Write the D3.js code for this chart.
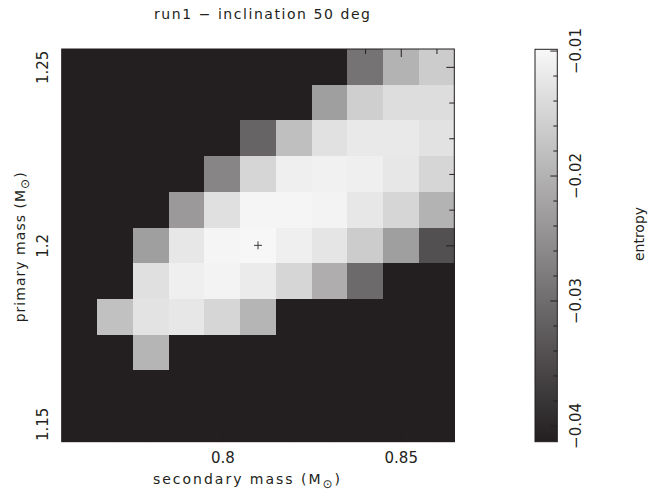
<!DOCTYPE html>
<html>
<head>
<meta charset="utf-8">
<script src="https://cdn.jsdelivr.net/npm/d3@7/dist/d3.min.js"></script>
<style>
  body { margin: 0; background: #fff; }
  text { font-family: "DejaVu Sans", sans-serif; fill: #231f20; }
</style>
</head>
<body>
<svg id="chart" width="661" height="501"></svg>
<script>
// Grid of trial masses (solar masses)
const secondaryMass = [0.76, 0.77, 0.78, 0.79, 0.80, 0.81, 0.82, 0.83, 0.84, 0.85, 0.86];
const primaryMass = [1.25, 1.24, 1.23, 1.22, 1.21, 1.20, 1.19, 1.18, 1.17, 1.16, 1.15];

// Entropy for each grid point, one row per primary mass (top row = 1.25).
// null marks points below the colour range.
const N = null;
const entropy = [
  [N, N, N, N, N, N, N, N, -0.0291, -0.0199, -0.0163],
  [N, N, N, N, N, N, N, -0.0228, -0.0159, -0.0138, -0.0138],
  [N, N, N, N, N, -0.0313, -0.0182, -0.0132, -0.0121, -0.0121, -0.0131],
  [N, N, N, N, -0.0265, -0.0148, -0.0112, -0.0109, -0.0112, -0.0124, -0.0148],
  [N, N, N, -0.0236, -0.0134, -0.0103, -0.0103, -0.0106, -0.0124, -0.0148, -0.0199],
  [N, N, -0.0228, -0.0124, -0.0103, -0.0100, -0.0112, -0.0126, -0.0163, -0.0228, -0.0342],
  [N, N, -0.0134, -0.0112, -0.0106, -0.0118, -0.0148, -0.0207, -0.0304, N, N],
  [N, -0.0178, -0.0130, -0.0124, -0.0148, -0.0196, N, N, N, N, N],
  [N, N, -0.0196, N, N, N, N, N, N, N, N],
  [N, N, N, N, N, N, N, N, N, N, N],
  [N, N, N, N, N, N, N, N, N, N, N]
];

// Best-fitting model
const bestFit = { secondary: 0.81, primary: 1.20 };

// Axis ticks
const xMajorTicks = [0.80, 0.85];
const xMinorTicks = [0.76, 0.77, 0.78, 0.79, 0.81, 0.82, 0.83, 0.84, 0.86];
const yMajorTicks = [1.15, 1.20, 1.25];
const yMinorTicks = [1.16, 1.17, 1.18, 1.19, 1.21, 1.22, 1.23, 1.24];
const cbarMajorTicks = [-0.04, -0.03, -0.02, -0.01];
const cbarMinorTicks = [-0.038, -0.036, -0.034, -0.032, -0.028, -0.026, -0.024, -0.022,
                        -0.018, -0.016, -0.014, -0.012];
const entropyRange = [-0.0413, -0.0099];

const step = 0.01;
const svg = d3.select("#chart");
const ink = "#231f20";

const plot = { left: 61.7, right: 454.3, top: 49, bottom: 441.7 };
const x = d3.scaleLinear().domain([0.755, 0.865]).range([plot.left, plot.right]);
const y = d3.scaleLinear().domain([1.145, 1.255]).range([plot.bottom, plot.top]);
const color = d3.scaleLinear().domain(entropyRange).range(["#231f20", "#f8f8f8"]).clamp(true);
const fillOf = v => v == null ? color(entropyRange[0]) : color(v);

// Underlay so cell edges never show through
svg.append("rect")
  .attr("x", plot.left).attr("y", plot.top)
  .attr("width", plot.right - plot.left).attr("height", plot.bottom - plot.top)
  .attr("fill", color(entropyRange[0]));

// Cells
const cells = [];
primaryMass.forEach((p, i) => secondaryMass.forEach((s, j) =>
  cells.push({ s, p, v: entropy[i][j] })));

svg.append("g").attr("shape-rendering", "crispEdges")
  .selectAll("rect").data(cells).join("rect")
  .attr("x", d => x(d.s - step / 2))
  .attr("y", d => y(d.p + step / 2))
  .attr("width", d => x(d.s + step / 2) - x(d.s - step / 2) + 0.5)
  .attr("height", d => y(d.p - step / 2) - y(d.p + step / 2) + 0.5)
  .attr("fill", d => fillOf(d.v));

// Best-fit marker
const bx = x(bestFit.secondary), by = y(bestFit.primary);
svg.append("path")
  .attr("d", `M${bx - 4},${by}H${bx + 4}M${bx},${by - 4}V${by + 4}`)
  .attr("stroke", "#3a3a3a").attr("stroke-width", 1);

// Inward ticks on all four sides
function tickAxis(axisFn, scale, values, size, tx, ty) {
  const g = svg.append("g").attr("transform", `translate(${tx},${ty})`)
    .call(axisFn(scale).tickValues(values).tickSize(-size).tickFormat(""));
  g.select(".domain").remove();
  g.selectAll("line").attr("stroke", ink);
  return g;
}
tickAxis(d3.axisBottom, x, xMajorTicks, 8, 0, plot.bottom);
tickAxis(d3.axisBottom, x, xMinorTicks, 5, 0, plot.bottom);
tickAxis(d3.axisTop, x, xMajorTicks, 8, 0, plot.top);
tickAxis(d3.axisTop, x, xMinorTicks, 5, 0, plot.top);
tickAxis(d3.axisLeft, y, yMajorTicks, 8, plot.left, 0);
tickAxis(d3.axisLeft, y, yMinorTicks, 5, plot.left, 0);
tickAxis(d3.axisRight, y, yMajorTicks, 8, plot.right, 0);
tickAxis(d3.axisRight, y, yMinorTicks, 5, plot.right, 0);

// Frame
svg.append("rect")
  .attr("x", plot.left).attr("y", plot.top)
  .attr("width", plot.right - plot.left).attr("height", plot.bottom - plot.top)
  .attr("fill", "none").attr("stroke", ink).attr("stroke-width", 1);

// Tick labels
const xLab = svg.append("g").attr("transform", `translate(0,${plot.bottom})`)
  .call(d3.axisBottom(x).tickValues(xMajorTicks).tickSize(0).tickFormat(d3.format("~g")));
xLab.select(".domain").remove();
xLab.selectAll("text").attr("y", 21).attr("dy", 0).attr("font-size", 15);

const yLab = svg.append("g").attr("transform", `translate(${plot.left},0)`)
  .call(d3.axisLeft(y).tickValues(yMajorTicks).tickSize(0).tickFormat(d3.format("~g")));
yLab.select(".domain").remove();
yLab.selectAll("text")
  .attr("x", 0).attr("y", 0).attr("dy", 0)
  .attr("text-anchor", "middle").attr("font-size", 15)
  .attr("transform", "translate(-14,0) rotate(-90)");

// Titles
svg.append("text").attr("x", 154).attr("y", 19)
  .attr("font-size", 14).attr("textLength", 216).attr("lengthAdjust", "spacing")
  .text("run1 \u2212 inclination 50 deg");

function massLabel(sel) {
  sel.append("tspan").text(sel.attr("data-label") + " (M");
  sel.append("tspan").attr("font-size", 12).attr("dy", 4).text("\u2299");
  sel.append("tspan").attr("dy", -4).text(")");
}
svg.append("text").attr("x", 153).attr("y", 484)
  .attr("font-size", 14).attr("textLength", 187).attr("lengthAdjust", "spacing")
  .attr("data-label", "secondary mass").call(massLabel);

svg.append("text")
  .attr("transform", `translate(25,${(plot.top + plot.bottom) / 2 + 2}) rotate(-90)`)
  .attr("text-anchor", "middle")
  .attr("font-size", 14).attr("textLength", 150).attr("lengthAdjust", "spacing")
  .attr("data-label", "primary mass").call(massLabel);

// Colour bar
const cbar = { left: 535, right: 557.3, top: 49.3, bottom: 441.7 };
const cy = d3.scaleLinear().domain(entropyRange).range([cbar.bottom, cbar.top]);

const grad = svg.append("defs").append("linearGradient")
  .attr("id", "entropyGradient").attr("x1", 0).attr("y1", 1).attr("x2", 0).attr("y2", 0);
grad.selectAll("stop").data(d3.range(0, 1.0001, 0.1)).join("stop")
  .attr("offset", t => t)
  .attr("stop-color", t => color(entropyRange[0] + t * (entropyRange[1] - entropyRange[0])));

svg.append("rect")
  .attr("x", cbar.left).attr("y", cbar.top)
  .attr("width", cbar.right - cbar.left).attr("height", cbar.bottom - cbar.top)
  .attr("fill", "url(#entropyGradient)").attr("stroke", ink).attr("stroke-width", 1);

const cMaj = svg.append("g").attr("transform", `translate(${cbar.right},0)`)
  .call(d3.axisRight(cy).tickValues(cbarMajorTicks).tickSize(-7).tickFormat(""));
cMaj.select(".domain").remove();
cMaj.selectAll("line").attr("stroke", ink);
const cMin = svg.append("g").attr("transform", `translate(${cbar.right},0)`)
  .call(d3.axisRight(cy).tickValues(cbarMinorTicks).tickSize(-4).tickFormat(""));
cMin.select(".domain").remove();
cMin.selectAll("line").attr("stroke", ink);

const cLab = svg.append("g").attr("transform", `translate(${cbar.right},0)`)
  .call(d3.axisRight(cy).tickValues(cbarMajorTicks).tickSize(0).tickFormat(d3.format(".2f")));
cLab.select(".domain").remove();
cLab.selectAll("text")
  .attr("x", 0).attr("y", 0).attr("dy", 0)
  .attr("text-anchor", "middle").attr("font-size", 15)
  .attr("transform", "translate(24,0) rotate(-90)");

svg.append("text")
  .attr("transform", "translate(644,234) rotate(-90)")
  .attr("text-anchor", "middle").attr("font-size", 14)
  .text("entropy");
</script>
</body>
</html>
